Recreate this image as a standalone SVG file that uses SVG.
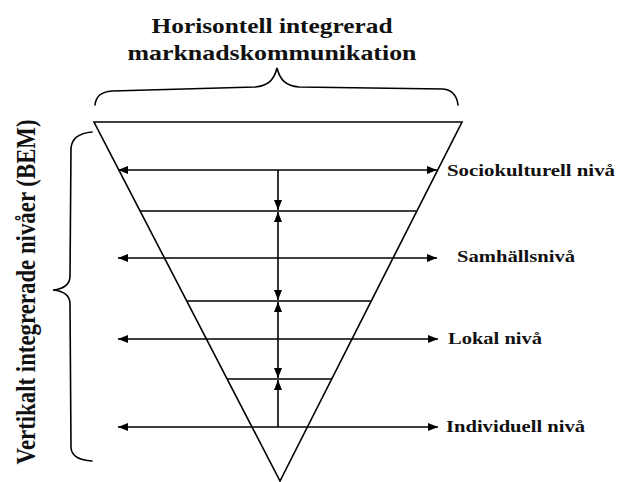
<svg xmlns="http://www.w3.org/2000/svg" width="617" height="482" viewBox="0 0 617 482">
<style>
.ln{stroke:#000;stroke-width:1.6;fill:none}
.ar{stroke:#000;stroke-width:1.6;fill:none;marker-start:url(#ah);marker-end:url(#ah)}
.ae{stroke:#000;stroke-width:1.6;fill:none;marker-end:url(#ah)}
.br{stroke:#000;stroke-width:1.6;fill:none;stroke-linecap:round}
.t{font-family:"Liberation Serif","Times New Roman",serif;font-weight:bold;fill:#111}
</style>
<defs>
<marker id="ah" viewBox="0 0 10 8" refX="10" refY="4" markerWidth="10" markerHeight="8" markerUnits="userSpaceOnUse" orient="auto-start-reverse">
<path d="M0,0 L10,4 L0,8 Z" fill="#000"/>
</marker>
</defs>
<rect width="617" height="482" fill="#fff"/>
<g id="title">
<text class="t" x="272" y="33" font-size="22" text-anchor="middle" textLength="241" lengthAdjust="spacingAndGlyphs">Horisontell integrerad</text>
<text class="t" x="272" y="60" font-size="22" text-anchor="middle" textLength="289" lengthAdjust="spacingAndGlyphs">marknadskommunikation</text>
</g>
<g id="top-brace">
<path class="br" d="M95,105 C96,96 101,92 112,91 L255,87 C268,86 274,80 277,68 C280,80 286,86 299,87 L443,89 C453,90 457,96 458,105"/>
</g>
<g id="left-brace">
<path class="br" d="M92,132 C80,133 72,137 71,148 L70,276 C70,285 63,289 53,290 C63,291 70,295 70,304 L71,448 C72,457 80,460 92,461"/>
</g>
<g id="vertical-label">
<text class="t" font-size="22" text-anchor="middle" transform="translate(35,292) rotate(-90) scale(1,1.25)" textLength="345" lengthAdjust="spacingAndGlyphs">Vertikalt integrerade nivåer (BEM)</text>
</g>
<g id="triangle">
<path class="ln" d="M94,122 L462,122 L280,481 Z"/>
<line class="ln" x1="140" y1="211" x2="416" y2="211"/>
<line class="ln" x1="187" y1="301" x2="371" y2="301"/>
<line class="ln" x1="227" y1="379" x2="332" y2="379"/>
</g>
<g id="connectors">
<line class="ar" x1="118" y1="170" x2="437" y2="170"/>
<line class="ar" x1="118" y1="258" x2="437" y2="258"/>
<line class="ar" x1="118" y1="339" x2="438" y2="339"/>
<line class="ar" x1="118" y1="427" x2="438" y2="427"/>
<line class="ae" x1="278" y1="170" x2="278" y2="210"/>
<line class="ar" x1="278" y1="212" x2="278" y2="300"/>
<line class="ar" x1="278" y1="302" x2="278" y2="378"/>
<line class="ae" x1="278" y1="427" x2="278" y2="380"/>
</g>
<g id="level-sociokulturell">
<text class="t" x="447" y="176" font-size="17" textLength="168" lengthAdjust="spacingAndGlyphs">Sociokulturell nivå</text>
</g>
<g id="level-samhall">
<text class="t" x="457" y="262" font-size="17" textLength="118" lengthAdjust="spacingAndGlyphs">Samhällsnivå</text>
</g>
<g id="level-lokal">
<text class="t" x="448" y="344" font-size="17" textLength="94" lengthAdjust="spacingAndGlyphs">Lokal nivå</text>
</g>
<g id="level-individuell">
<text class="t" x="446" y="432" font-size="17" textLength="139" lengthAdjust="spacingAndGlyphs">Individuell nivå</text>
</g>
</svg>
